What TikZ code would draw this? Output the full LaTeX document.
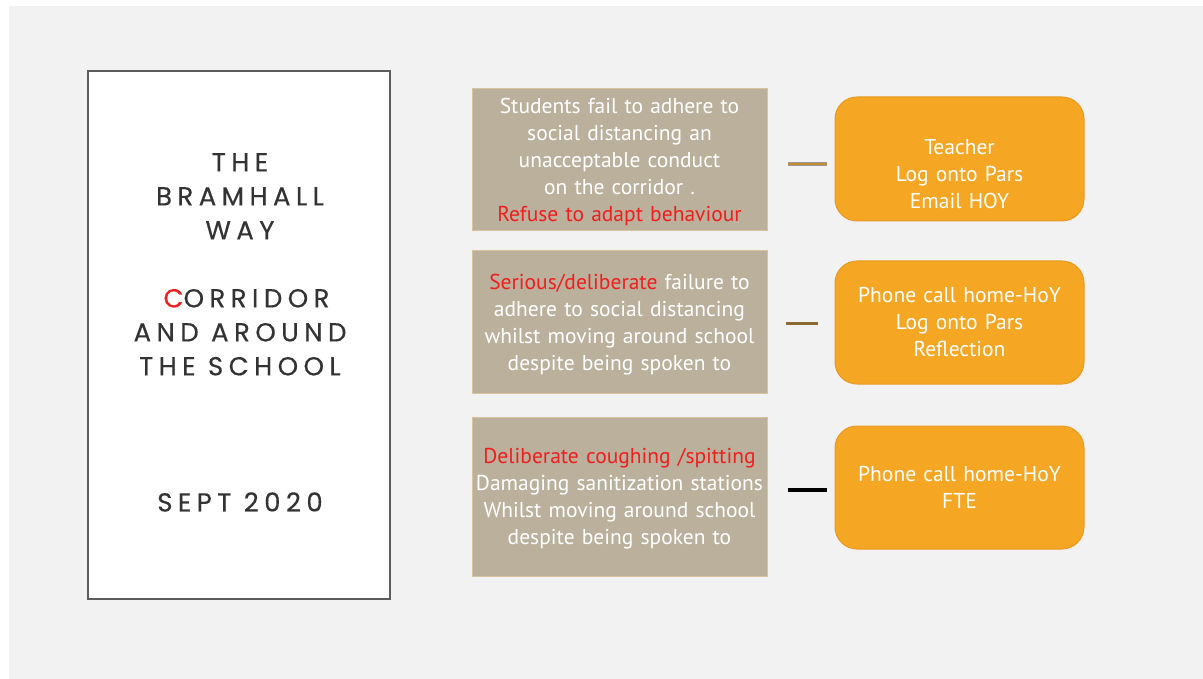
\documentclass[tikz,border=0pt]{standalone}
\usepackage{fontspec}
\setmainfont{PT Sans}
\newfontfamily\titlefont[LetterSpace=21,FakeBold=0.4]{Poppins}
\usetikzlibrary{calc}
\definecolor{bgpanel}{HTML}{F2F2F2}
\definecolor{tanfill}{HTML}{BAB09C}
\definecolor{tanedge}{HTML}{D8C3A0}
\definecolor{orangefill}{HTML}{F5A623}
\definecolor{orangeedge}{HTML}{E89A25}
\definecolor{redtxt}{HTML}{F01E1E}
\definecolor{titlegray}{HTML}{333333}
\definecolor{linebrown}{HTML}{8C6A32}
\definecolor{lineorange}{HTML}{C58E34}
\tikzset{
  tanbox/.style={draw=tanedge, line width=1pt, fill=tanfill, text=white,
    minimum width=295pt, text width=293pt, align=center, inner sep=0pt,
    font=\fontsize{21.5}{27}\selectfont},
  plaintext/.style={draw=none, fill=none, minimum height=0pt},
  orangebox/.style={draw=orangeedge, line width=1pt, fill=orangefill, text=white,
    rounded corners=22pt, minimum width=249pt, minimum height=123pt,
    text width=245pt, align=center, inner sep=0pt,
    font=\fontsize{21.5}{27}\selectfont},
  titletext/.style={text=titlegray, align=center, inner sep=0pt,
    font=\titlefont\fontsize{26}{34}\selectfont},
  link/.style={line width=3pt}
}
\begin{document}
\begin{tikzpicture}[x=1pt,y=-1pt]
\useasboundingbox (0,0) rectangle (1203,679);
\fill[white] (0,0) rectangle (1203,679);
\fill[bgpanel] (9,6) rectangle (1203,679);
% left title panel
\node[draw=titlegray!80, line width=2pt, fill=white, minimum width=302pt, minimum height=528pt, inner sep=0pt] (panel) at (239,335) {};
\node[titletext, anchor=north] (title) at (240,153) {THE\\BRAMHALL\\WAY\\[34pt]\hspace*{0.5em}\textcolor{redtxt}{C}ORRIDOR\\AND AROUND\\THE SCHOOL};
\node[titletext] (date) at (240,502) {SEPT 2020};
% behaviour boxes
\node[tanbox, minimum height=142pt] (t1) at (619.5,160) {};
\node[tanbox, plaintext] (t1txt) at (619.5,162) {Students fail to adhere to\\social distancing an\\unacceptable conduct\\on the corridor .\\\textcolor{redtxt}{Refuse to adapt behaviour}};
\node[tanbox, minimum height=142pt] (t2) at (619.5,322) {};
\node[tanbox, plaintext] (t2txt) at (619.5,325) {\textcolor{redtxt}{Serious/deliberate} failure to\\adhere to social distancing\\whilst moving around school\\despite being spoken to};
\node[tanbox, minimum height=159pt] (t3) at (619.5,496.5) {};
\node[tanbox, plaintext] (t3txt) at (619.5,499) {\textcolor{redtxt}{Deliberate coughing /spitting}\\Damaging sanitization stations\\Whilst moving around school\\despite being spoken to};
% consequence boxes
\node[orangebox, minimum height=124pt] (o1) at (959.5,159) {};
\node[orangebox, plaintext] (o1txt) at (959.5,174) {Teacher\\Log onto Pars\\Email HOY};
\node[orangebox] (o2) at (959.5,322.5) {Phone call home-HoY\\Log onto Pars\\Reflection};
\node[orangebox] (o3) at (959.5,487.5) {Phone call home-HoY\\FTE\\[27pt]};
% connectors
\draw[draw=gray!80, line width=0.8pt, double=lineorange, double distance=2.6pt, shorten <=20pt, shorten >=8pt]
  ([yshift=-4pt]t1.east) -- ([yshift=-5pt]o1.west);
\draw[link, draw=linebrown, shorten <=18pt, shorten >=17pt]
  ([yshift=-2pt]t2.east) -- ([yshift=-1.5pt]o2.west);
\draw[link, draw=black, line width=4.5pt, shorten <=20pt, shorten >=8pt]
  ([yshift=6.5pt]t3.east) -- ([yshift=-2.5pt]o3.west);
\end{tikzpicture}
\end{document}
